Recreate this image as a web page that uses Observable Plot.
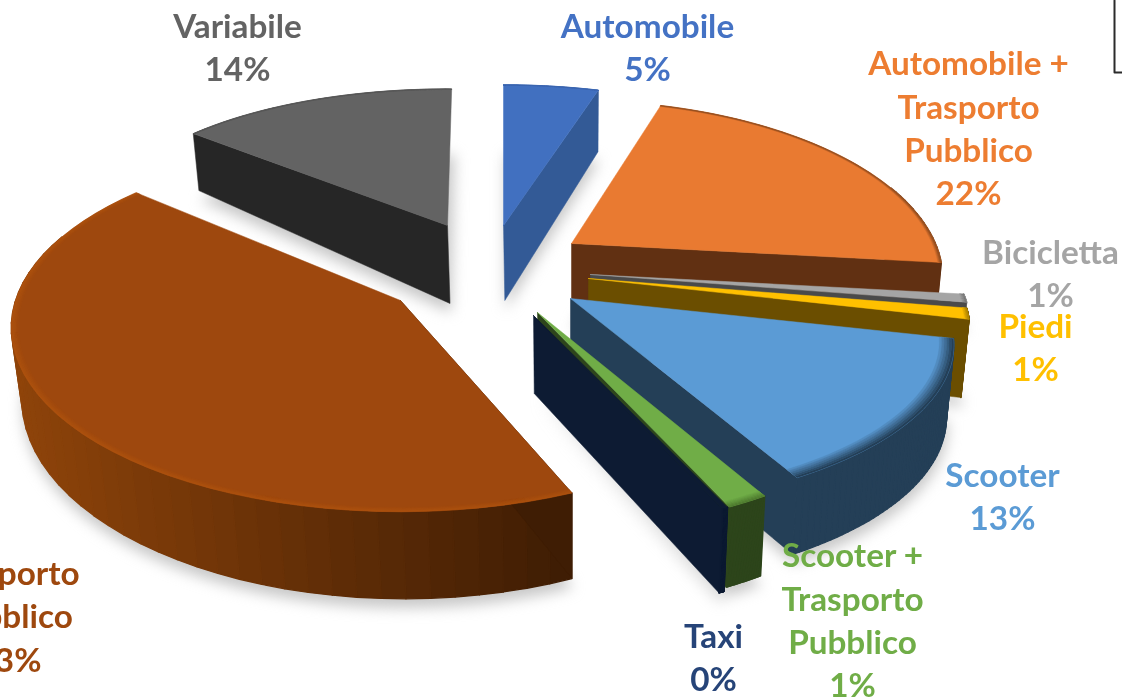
<!DOCTYPE html>
<html lang="it">
<head>
<meta charset="utf-8">
<script src="https://cdn.jsdelivr.net/npm/d3@7"></script>
<script src="https://cdn.jsdelivr.net/npm/@observablehq/plot@0.6"></script>
<style>
html,body{margin:0;padding:0;background:#fff;overflow:hidden}
svg{display:block}
.soft{filter:blur(7px)}
</style>
</head>
<body>
<div id="chart"></div>
<script>
// ---- data ----
const categories = ["Automobile","Automobile +\nTrasporto\nPubblico","Bicicletta","Piedi","Scooter","Scooter +\nTrasporto\nPubblico","Taxi","Trasporto\nPubblico","Variabile"];
const shares = [5, 22, 0.8, 1, 13.4, 1.4, 0.2, 42.7, 13.5];

// ---- colours ----
const topColors  = ["#4170c0","#e97a31","#a5a5a5","#ffc000","#5b9bd5","#70ad47","#0d1b33","#9e480e","#636363"];
const cutColors  = ["#335a96","#613012","#4a4a4a","#6b4e00","#243f57","#2d451b","#0d1b33","#3f1d04","#262626"];
const sideLeft   = ["#335a96","#613012","#8f8f8f","#6b4e00","#243f57","#2d451b","#0d1b33","#8f440a","#262626"];
const sideRight  = ["#335a96","#613012","#8f8f8f","#6b4e00","#243f57","#2d451b","#0d1b33","#3f1d04","#262626"];
const rimColors  = ["#3a64ac","#8a4a20","#777777","#a88000","#243f57","#4f7a30","#0d1b33","#ad520f","#555555"];
const rimWidths  = [0.006,0.010,0.012,0.012,0.035,0.02,0,0.018,0.006];
const labelColors= ["#4472c4","#ed7d31","#a5a5a5","#ffc000","#5b9bd5","#70ad47","#264478","#9e480e","#636363"];

// ---- layout of each exploded, tilted slice ----
const centerX = [503,571,590,588,570,537,533,400,447];
const centerY = [225,243,274,278,298,312,315,300,225];
const radiusX = [395,364,362,364,368,355,359,385,345];
const radiusY = [183,172,150,160,152,153,151,180,138];
const persp   = [.30,.20,.30,.30,.28,.30,.30,.148,.01];
const depth   = [75,77,20,76,72,72,78,71,78];
const depthP  = [.8,.4,.4,.4,.2,.3,.2,1.3,0];
const depthEdge = [0,0,0,0,0,0,0,0,-21];
const rotate  = [0,-1,0,0,.5,0,0,-.3,.7];
const taper = 0.02, taperX = 570;
const paintOrder = [0,1,8,2,3,4,5,6,7];
const labelX = [647,968,1050,1035,1002,852,713,8,237];
const labelY = [45.5,126,271.5,345.5,494.5,618,655.5,614,45.5];
const frameCorner = [[1114,0],[1114,72],[1122,72]];

// ---- geometry derived from the shares ----
const total = d3.sum(shares);
const ends = d3.cumsum(shares).map(v => v / total * 360);
const rad = Math.PI / 180;
const polygons = [], shadows = [];
function add(list, id, color, width, pts){ pts.forEach(([x,y]) => list.push({id, color, width, x, y})); }

function project(i, tDeg, f){
  const t = tDeg * rad;
  const s = 1 / (1 + persp[i] * f * Math.cos(t));
  const x = centerX[i] + radiusX[i] * f * Math.sin(t) * s;
  const d = depth[i] * (1 + depthP[i] * (s - 1)) + depthEdge[i] * f;
  return {
    x,
    y: centerY[i] - radiusY[i] * f * Math.cos(t) * s,
    d,
    bx: x - taper * (x - taperX) * d / 76
  };
}
function arc(i, a, b, f){ return d3.range(0, 49).map(k => project(i, a + (b - a) * k / 48, f)); }

paintOrder.forEach(i => {
  const b = ends[i] + rotate[i], a = (i ? ends[i-1] : 0) + rotate[i];
  const apex = project(i, 0, 0), edge = arc(i, a, b, 1);
  const sideEnd = b <= 180 ? b : a;
  const corner = project(i, sideEnd, 1);

  add(shadows, "s" + i, "#b4b4b4", 0, [[apex.bx, apex.y + apex.d], ...edge.map(p => [p.bx, p.y + p.d])].map(([x,y]) => [x + 1, y + 9]));

  // outer wall, strip by strip on the side facing the viewer
  const xs = edge.map(p => p.x), x0 = d3.min(xs), x1 = d3.max(xs);
  const wall = d3.interpolateRgb(sideLeft[i], sideRight[i]);
  d3.pairs(edge).forEach(([p, q], k) => {
    const tMid = a + (b - a) * (k + .5) / 48;
    if (Math.cos(tMid * rad) > 0.35) return;
    add(polygons, `w${i}-${k}`, wall((p.x - x0) / (x1 - x0 || 1)), 1.3,
      [[p.x,p.y],[q.x,q.y],[q.bx,q.y+q.d],[p.bx,p.y+p.d],[p.x,p.y]]);
  });
  // cut face
  add(polygons, `c${i}`, cutColors[i], .5, [[apex.x,apex.y],[corner.x,corner.y],[corner.bx,corner.y+corner.d],[apex.bx,apex.y+apex.d],[apex.x,apex.y]]);
  // top face
  add(polygons, `t${i}`, topColors[i], .5, [[apex.x,apex.y],...edge.map(p=>[p.x,p.y]),[apex.x,apex.y]]);
  // rim shading, fading from the face to the edge
  if (rimWidths[i] > 0) {
    const n = 6, shade = d3.interpolateRgb(topColors[i], rimColors[i]);
    d3.range(n).forEach(k => {
      const f0 = 1 - rimWidths[i] * (n - k) / n, f1 = 1 - rimWidths[i] * (n - k - 1) / n;
      const outer = arc(i, a, b, f1), inner = arc(i, a, b, f0).reverse();
      add(polygons, `r${i}-${k}`, shade((k + 1) / n), .3, [...outer, ...inner, outer[0]].map(p => [p.x, p.y]));
    });
  }
});

const labels = categories.map((name, i) => ({
  text: name + "\n" + Math.round(shares[i]) + "%",
  x: labelX[i], y: labelY[i], color: labelColors[i]
}));
const frame = frameCorner.map(([x, y]) => ({x, y}));

const chart = Plot.plot({
  width: 1122, height: 698,
  margin: 0,
  x: {domain: [0, 1122], range: [0, 1122], axis: null},
  y: {domain: [0, 698], range: [0, 698], axis: null},
  color: {type: "identity"},
  style: {background: "#fff"},
  marks: [
    Plot.line(shadows, {x:"x", y:"y", z:"id", fill:"color", stroke:"none", curve:"linear", className:"soft", opacity:.75}),
    Plot.line(polygons, {x:"x", y:"y", z:"id", fill:"color", stroke:"color", strokeWidth:"width", curve:"linear", strokeLinejoin:"round"}),
    Plot.line(frame, {x:"x", y:"y", stroke:"#2b2b2b", strokeWidth:2}),
    Plot.text(labels, {x:"x", y:"y", text:"text", fill:"color", fontFamily:"Lato", fontWeight:700, fontSize:33.3, lineHeight:1.3, textAnchor:"middle"})
  ]
});
document.getElementById("chart").append(chart);
</script>
</body>
</html>
